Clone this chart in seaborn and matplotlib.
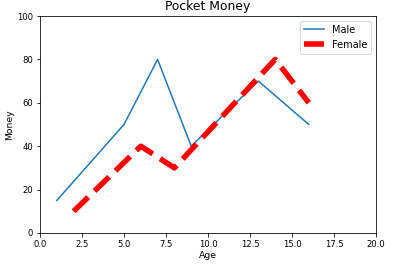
import matplotlib
matplotlib.use("Agg")
import matplotlib.pyplot as plt
import seaborn as sns

male_age = [1, 5, 7, 9, 13, 16]
male_money = [15, 50, 80, 40, 70, 50]
female_age = [2, 6, 8, 14, 16]
female_money = [10, 40, 30, 80, 60]

plt.rcParams['font.family'] = ['DejaVu Sans']
fig = plt.figure(figsize=(403/72, 272/72), dpi=72)
ax = fig.add_axes([40/403, 1-233/272, (376-40)/403, (233-16)/272])

sns.lineplot(x=male_age, y=male_money, ax=ax, label='Male', color='#1f77b4', linewidth=1.5)
sns.lineplot(x=female_age, y=female_money, ax=ax, label='Female', color='red', linestyle='--', linewidth=5.5)

ax.set_xlim(0, 20)
ax.set_ylim(0, 100)
ax.set_title('Pocket Money', fontsize=12.4)
ax.set_xlabel('Age', fontsize=9.3, labelpad=2)
ax.set_ylabel('Money', fontsize=9.3, labelpad=3)
ax.tick_params(labelsize=8.5)
ax.legend(loc='upper right', fontsize=9.8)

fig.savefig('out.png', dpi=72)
